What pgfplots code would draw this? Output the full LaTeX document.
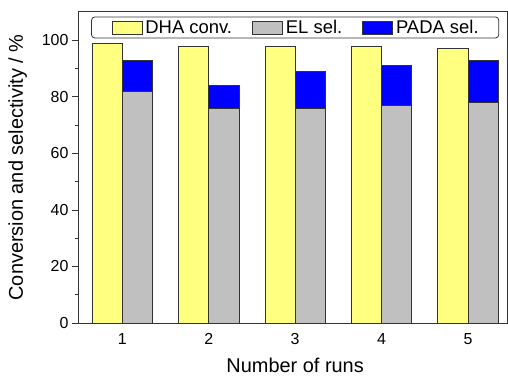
\documentclass[border=0pt]{standalone}
\usepackage{pgfplots}
\pgfplotsset{compat=1.18}
\usepackage{fontspec}
\setmainfont{Liberation Sans}
\definecolor{cyel}{HTML}{FFFF80}
\definecolor{cgray}{HTML}{C0C0C0}
\definecolor{cblue}{HTML}{0000FF}
\definecolor{cline}{HTML}{333333}
\begin{document}
\begin{tikzpicture}
\useasboundingbox (-79bp,-57bp) rectangle (429bp,323bp);
\begin{axis}[
  scale only axis, width=428bp, height=311bp,
  at={(0,0)}, anchor=south west,
  xmin=0.5, xmax=5.45, ymin=0, ymax=110,
  xtick={1,2,3,4,5}, ytick={0,20,...,100}, minor ytick={10,30,...,90},
  ytick pos=left, xtick pos=bottom, tick align=outside,
  xtick style={draw=none},
  ytick style={line width=0.8bp, draw=cline},
  major tick length=7bp, minor tick length=4bp,
  axis line style={line width=1bp, draw=cline},
  tick label style={font=\fontsize{16}{19}\selectfont},
  /pgf/number format/assume math mode=true,
  xlabel={Number of runs}, ylabel={Conversion and selectivity / \%},
  label style={font=\fontsize{20}{24}\selectfont},
  xlabel style={at={(axis description cs:0.505,-0.135)}, anchor=center},
  ylabel style={at={(axis description cs:-0.143,0.5)}, anchor=center},
  legend columns=3,
  legend image code/.code={\draw[#1, sharp corners] (0bp,-6.5bp) rectangle (30bp,6.5bp);},
  legend style={at={(axis description cs:0.505,0.985)}, anchor=north,
    draw=cline, line width=0.8bp, rounded corners=3bp,
    font=\fontsize{18.5}{21}\selectfont,
    inner xsep=20bp, inner ysep=1bp,
    nodes={inner xsep=0pt, inner ysep=2bp},
    /tikz/every odd column/.append style={column sep=3bp},
    /tikz/every even column/.append style={column sep=20bp}},
]
\addplot[ybar, bar width=0.35, bar shift=0pt, fill=cyel, draw=cline, line width=0.8bp, forget plot]
  coordinates {(0.825,99) (1.825,98) (2.825,98) (3.825,98) (4.825,97)};
\addplot[ybar, bar width=0.35, bar shift=0pt, fill=cblue, draw=cline, line width=0.8bp, forget plot]
  coordinates {(1.175,93) (2.175,84) (3.175,89) (4.175,91) (5.175,93)};
\addplot[ybar, bar width=0.35, bar shift=0pt, fill=cgray, draw=cline, line width=0.8bp, forget plot]
  coordinates {(1.175,82) (2.175,76) (3.175,76) (4.175,77) (5.175,78)};
\addlegendimage{fill=cyel, draw=cline, line width=0.8bp}
\addlegendentry{DHA conv.}
\addlegendimage{fill=cgray, draw=cline, line width=0.8bp}
\addlegendentry{EL sel.}
\addlegendimage{fill=cblue, draw=cline, line width=0.8bp}
\addlegendentry{PADA sel.}
\end{axis}
\end{tikzpicture}
\end{document}
